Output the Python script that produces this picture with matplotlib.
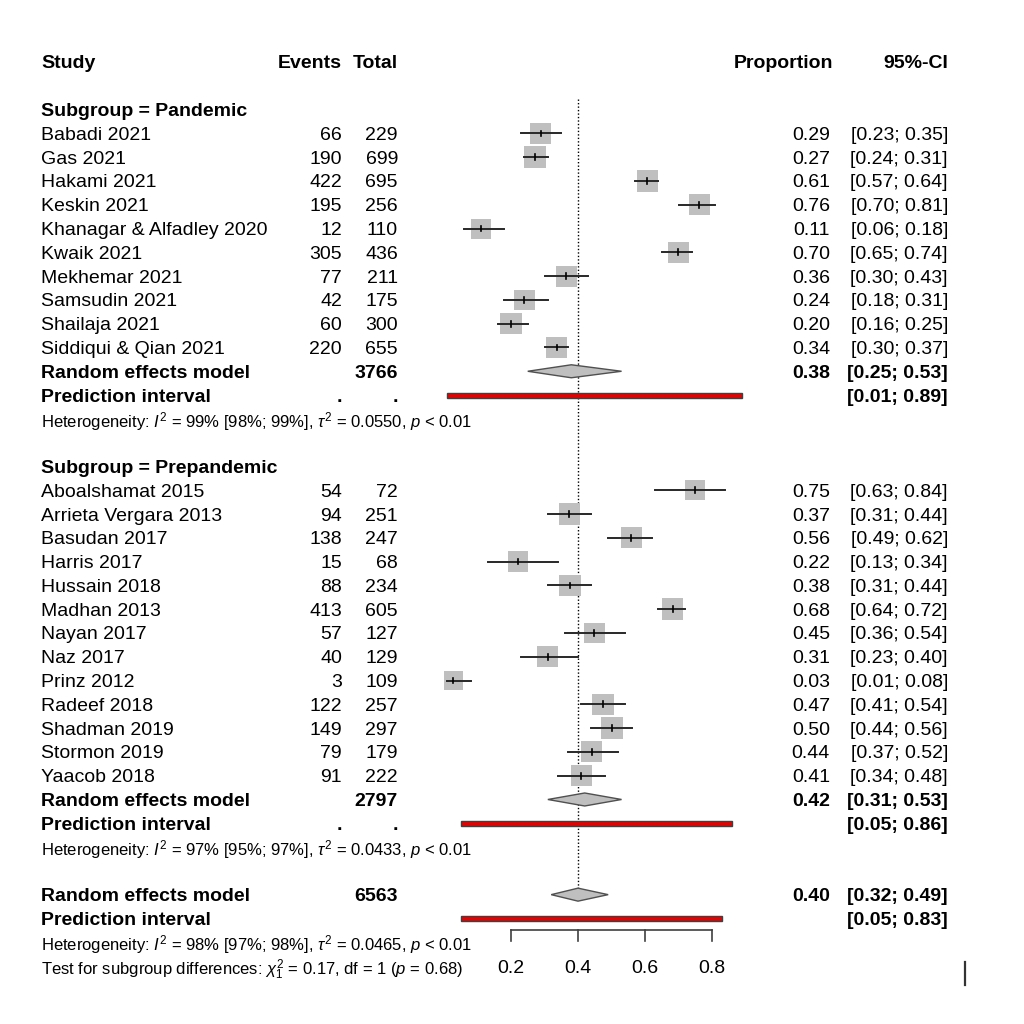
import matplotlib
matplotlib.use("Agg")
import matplotlib.pyplot as plt
from matplotlib.patches import Polygon, Rectangle
import numpy as np

# data
pan_study = ["Babadi 2021", "Gas 2021", "Hakami 2021", "Keskin 2021", "Khanagar & Alfadley 2020",
             "Kwaik 2021", "Mekhemar 2021", "Samsudin 2021", "Shailaja 2021", "Siddiqui & Qian 2021"]
pan_events = [66, 190, 422, 195, 12, 305, 77, 42, 60, 220]
pan_total = [229, 699, 695, 256, 110, 436, 211, 175, 300, 655]
pan_lo = [0.23, 0.24, 0.57, 0.70, 0.06, 0.65, 0.30, 0.18, 0.16, 0.30]
pan_hi = [0.35, 0.31, 0.64, 0.81, 0.18, 0.74, 0.43, 0.31, 0.25, 0.37]
pan_weight = [4.4, 4.6, 4.6, 4.4, 4.0, 4.5, 4.4, 4.3, 4.5, 4.6]
pan_summary = [0.38, 0.25, 0.53]
pan_pi = [0.01, 0.89]
pan_het = r"Heterogeneity: $I^2$ = 99% [98%; 99%], $\tau^2$ = 0.0550, $p$ < 0.01"

pre_study = ["Aboalshamat 2015", "Arrieta Vergara 2013", "Basudan 2017", "Harris 2017", "Hussain 2018",
             "Madhan 2013", "Nayan 2017", "Naz 2017", "Prinz 2012", "Radeef 2018", "Shadman 2019",
             "Stormon 2019", "Yaacob 2018"]
pre_events = [54, 94, 138, 15, 88, 413, 57, 40, 3, 122, 149, 79, 91]
pre_total = [72, 251, 247, 68, 234, 605, 127, 129, 109, 257, 297, 179, 222]
pre_lo = [0.63, 0.31, 0.49, 0.13, 0.31, 0.64, 0.36, 0.23, 0.01, 0.41, 0.44, 0.37, 0.34]
pre_hi = [0.84, 0.44, 0.62, 0.34, 0.44, 0.72, 0.54, 0.40, 0.08, 0.54, 0.56, 0.52, 0.48]
pre_weight = [4.0, 4.5, 4.4, 4.1, 4.5, 4.6, 4.3, 4.3, 3.6, 4.5, 4.5, 4.4, 4.4]
pre_summary = [0.42, 0.31, 0.53]
pre_pi = [0.05, 0.86]
pre_het = r"Heterogeneity: $I^2$ = 97% [95%; 97%], $\tau^2$ = 0.0433, $p$ < 0.01"

all_summary = [0.40, 0.32, 0.49]
all_pi = [0.05, 0.83]
all_het = r"Heterogeneity: $I^2$ = 98% [97%; 98%], $\tau^2$ = 0.0465, $p$ < 0.01"
test_text = r"Test for subgroup differences: $\chi^2_1$ = 0.17, df = 1 ($p$ = 0.68)"
ticks = [0.2, 0.4, 0.6, 0.8]

plt.rcParams['font.family'] = ['Liberation Sans', 'DejaVu Sans']
plt.rcParams['mathtext.fontset'] = 'custom'
plt.rcParams['mathtext.rm'] = 'Liberation Sans'
plt.rcParams['mathtext.it'] = 'Liberation Sans:italic'

fig = plt.figure(figsize=(10.24, 10.24), dpi=100)
ax = fig.add_axes([0, 0, 1, 1])
PX, X0, RH, Y0 = 335.0, 444.0, 23.79, 62.0
ax.set_xlim(-X0 / PX, (1024 - X0) / PX)
ax.set_ylim((1024 - Y0) / RH, -Y0 / RH)
ax.axis('off')
tr = ax.get_yaxis_transform()

FS = 14
SMALL = 12


def txt(px, row, s, ha='left', bold=False, size=FS):
    ax.text(px / 1024, row, s, transform=tr, ha=ha, va='center_baseline', fontsize=size,
            fontweight='bold' if bold else 'normal')


def ci_str(lo, hi):
    return "[%.2f; %.2f]" % (lo, hi)


def diamond(row, est, lo, hi):
    h = 6.5 / RH
    ax.add_patch(Polygon([(lo, row), (est, row - h), (hi, row), (est, row + h)],
                         closed=True, fc='#bfbfbf', ec='#505050', lw=1, zorder=4))


def pi_bar(row, lo, hi):
    h = 5.0 / RH
    ax.add_patch(Rectangle((lo, row - h / 2), hi - lo, h, fc='#e80000', ec='#404040', lw=1, zorder=4))


# header
txt(41, 0, "Study", bold=True)
txt(342, 0, "Events", ha='right', bold=True)
txt(398, 0, "Total", ha='right', bold=True)
txt(833, 0, "Proportion", ha='right', bold=True)
txt(948, 0, "95%-CI", ha='right', bold=True)


def group(start, title, study, events, total, lo, hi, weight, summary, pi, het):
    txt(41, start, title, bold=True)
    for i in range(len(study)):
        row = start + 1 + i
        p = events[i] / total[i]
        side = 21.5 * np.sqrt(weight[i] / 4.6) * 0.72
        ax.scatter([p], [row], marker='s', s=side ** 2, color='#bfbfbf', edgecolors='none', zorder=2)
        ax.plot([lo[i], hi[i]], [row, row], color='#282828', lw=1.4, zorder=3)
        ax.plot([p, p], [row - 0.12, row + 0.12], color='black', lw=1.2, zorder=3)
        txt(41, row, study[i])
        txt(342, row, str(events[i]), ha='right')
        txt(398, row, str(total[i]), ha='right')
        txt(830, row, "%.2f" % p, ha='right')
        txt(948, row, ci_str(lo[i], hi[i]), ha='right')
    r = start + 1 + len(study)
    txt(41, r, "Random effects model", bold=True)
    txt(398, r, str(sum(total)), ha='right', bold=True)
    diamond(r, *summary)
    txt(830, r, "%.2f" % summary[0], ha='right', bold=True)
    txt(948, r, ci_str(summary[1], summary[2]), ha='right', bold=True)
    txt(41, r + 1, "Prediction interval", bold=True)
    txt(342, r + 1, ".", ha='right', bold=True)
    txt(398, r + 1, ".", ha='right', bold=True)
    pi_bar(r + 1, *pi)
    txt(948, r + 1, ci_str(*pi), ha='right', bold=True)
    txt(41, r + 2, het, size=SMALL)
    return r + 4


nxt = group(2, "Subgroup = Pandemic", pan_study, pan_events, pan_total, pan_lo, pan_hi,
            pan_weight, pan_summary, pan_pi, pan_het)
nxt = group(nxt, "Subgroup = Prepandemic", pre_study, pre_events, pre_total, pre_lo, pre_hi,
            pre_weight, pre_summary, pre_pi, pre_het)

# overall
r = nxt
txt(41, r, "Random effects model", bold=True)
txt(398, r, str(sum(pan_total) + sum(pre_total)), ha='right', bold=True)
diamond(r, *all_summary)
txt(830, r, "%.2f" % all_summary[0], ha='right', bold=True)
txt(948, r, ci_str(all_summary[1], all_summary[2]), ha='right', bold=True)
txt(41, r + 1, "Prediction interval", bold=True)
pi_bar(r + 1, *all_pi)
txt(948, r + 1, ci_str(*all_pi), ha='right', bold=True)
txt(41, r + 2, all_het, size=SMALL)
txt(41, r + 3, test_text, size=SMALL)

# dotted random-effects line
ax.plot([all_summary[0]] * 2, [(99 - Y0) / RH, r - 6.5 / RH], color='black', lw=1,
        ls=(0, (1, 1.5)), zorder=1)

# x axis
ya = (930 - Y0) / RH
yt = (941 - Y0) / RH
ax.plot([ticks[0], ticks[-1]], [ya, ya], color='#404040', lw=1.2)
for t in ticks:
    ax.plot([t, t], [ya, yt], color='#404040', lw=1.2)
    ax.text(t, r + 3, "%.1f" % t, ha='center', va='center_baseline', fontsize=FS)

# stray cursor mark at bottom right
ax.plot([964.5 / 1024] * 2, [(962 - Y0) / RH, (985 - Y0) / RH], color='#333333', lw=1.6,
        transform=tr)

fig.savefig("out.png", dpi=100, facecolor='white')
